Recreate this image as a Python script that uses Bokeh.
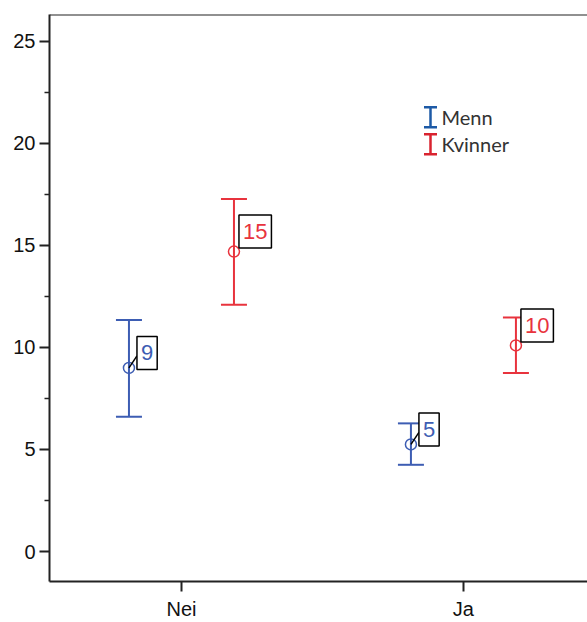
from bokeh.plotting import figure
from bokeh.models import ColumnDataSource, Whisker, TeeHead, Range1d, FixedTicker, Span
from bokeh.core.properties import value
from bokeh.embed import file_html
from bokeh.resources import INLINE

# ---------------- data ----------------
categories = ["Nei", "Ja"]
series = ["Menn", "Kvinner"]
menn_mean = [9.0, 5.25]
menn_upper = [11.35, 6.28]
menn_lower = [6.6, 4.25]
kvinner_mean = [14.7, 10.1]
kvinner_upper = [17.28, 11.47]
kvinner_lower = [12.1, 8.75]
menn_labels = ["9", "5"]
kvinner_labels = ["15", "10"]
y_ticks = [0, 5, 10, 15, 20, 25]

# ---------------- layout ----------------
X_START, X_END = 0.532, 2.44
Y_START, Y_END = -1.47, 26.32
FRAME_W, FRAME_H = 538, 568
PXX = FRAME_W / (X_END - X_START)
PXY = FRAME_H / (Y_END - Y_START)
DODGE = 52.5 / PXX


def fx(px):
    return X_START + px / PXX


def fy(py):
    return Y_END - py / PXY


BLUE = "#3d5db3"
RED = "#e8333d"
LBLUE = "#1d5aa6"
LRED = "#d9232f"
AXIS = "#222222"

p = figure(width=587, height=622, x_range=Range1d(X_START, X_END),
           y_range=Range1d(Y_START, Y_END), output_backend="svg",
           toolbar_location=None, min_border_left=49, min_border_top=14,
           min_border_right=0, min_border_bottom=40)
p.outline_line_color = None
p.xgrid.visible = False
p.ygrid.visible = False
p.background_fill_color = "white"
p.border_fill_color = "white"

# axes
xpos = [i + 1 for i in range(len(categories))]
p.xaxis.ticker = FixedTicker(ticks=xpos)
p.xaxis.major_label_overrides = {float(x): c for x, c in zip(xpos, categories)}
minor = [(a + b) / 2 for a, b in zip(y_ticks[:-1], y_ticks[1:])]
p.yaxis.ticker = FixedTicker(ticks=y_ticks, minor_ticks=minor)
for ax in (p.xaxis[0], p.yaxis[0]):
    ax.axis_line_color = AXIS
    ax.axis_line_width = 2
    ax.major_tick_line_color = AXIS
    ax.major_tick_line_width = 2
    ax.minor_tick_line_color = AXIS
    ax.minor_tick_line_width = 1.5
    ax.major_tick_in = 0
    ax.major_tick_out = 10
    ax.minor_tick_in = 0
    ax.minor_tick_out = 5
    ax.major_label_text_font = "Liberation Sans"
    ax.major_label_text_font_size = "20px"
    ax.major_label_text_color = "#111111"
p.xaxis.major_label_standoff = 6
p.yaxis.major_label_standoff = 4
p.xaxis.minor_tick_out = 0

p.add_layout(Span(location=Y_END, dimension="width", line_color=AXIS, line_width=2))


def add_series(means, uppers, lowers, labels, offset, color, dx, dy, leader):
    xs = [x + offset for x in xpos]
    src = ColumnDataSource(dict(
        x=xs, mean=means, upper=uppers, lower=lowers, label=labels,
        lx=[x + dx / PXX for x in xs], ly=[m + (-dy - 3) / PXY for m in means]))
    p.add_layout(Whisker(source=src, base="x", upper="upper", lower="lower",
                         dimension="height", line_color=color, line_width=2,
                         upper_head=TeeHead(size=26, line_color=color, line_width=2),
                         lower_head=TeeHead(size=26, line_color=color, line_width=2)))
    p.scatter("x", "mean", source=src, marker="circle", size=11, fill_color=None,
              line_color=color, line_width=1.5)
    if leader:
        p.segment(x0="x", y0="mean", x1="lx", y1="ly", source=src,
                  line_color="black", line_width=1.5)
    p.text("x", "mean", text="label", source=src, x_offset=dx, y_offset=dy,
           text_align="left", text_baseline="middle",
           text_font=value("Liberation Sans"), text_font_size="22px",
           text_color=color, padding=dict(left=4, right=4, top=9, bottom=9),
           border_line_color="black",
           border_line_width=1.5, background_fill_color="white")


add_series(menn_mean, menn_upper, menn_lower, menn_labels, -DODGE, BLUE, 8, -15, True)
add_series(kvinner_mean, kvinner_upper, kvinner_lower, kvinner_labels, DODGE, RED, 5, -20, False)

# legend (manual, error-bar shaped icons)
leg_colors = [LBLUE, LRED]
for i, (name, col) in enumerate(zip(series, leg_colors)):
    cy = 103 + 27 * i
    lsrc = ColumnDataSource(dict(x=[fx(381)], upper=[fy(cy - 10)], lower=[fy(cy + 10)]))
    p.add_layout(Whisker(source=lsrc, base="x", upper="upper", lower="lower",
                         dimension="height", line_color=col, line_width=2.5,
                         upper_head=TeeHead(size=13, line_color=col, line_width=2.5),
                         lower_head=TeeHead(size=13, line_color=col, line_width=2.5)))
p.text(x=[fx(392)] * len(series), y=[fy(103 + 27 * i) for i in range(len(series))],
       text=series, text_align="left", text_baseline="middle",
       text_font=value("Lato"), text_font_size="20px", text_color="#333333")

open("out.html", "w").write(file_html(p, INLINE))
